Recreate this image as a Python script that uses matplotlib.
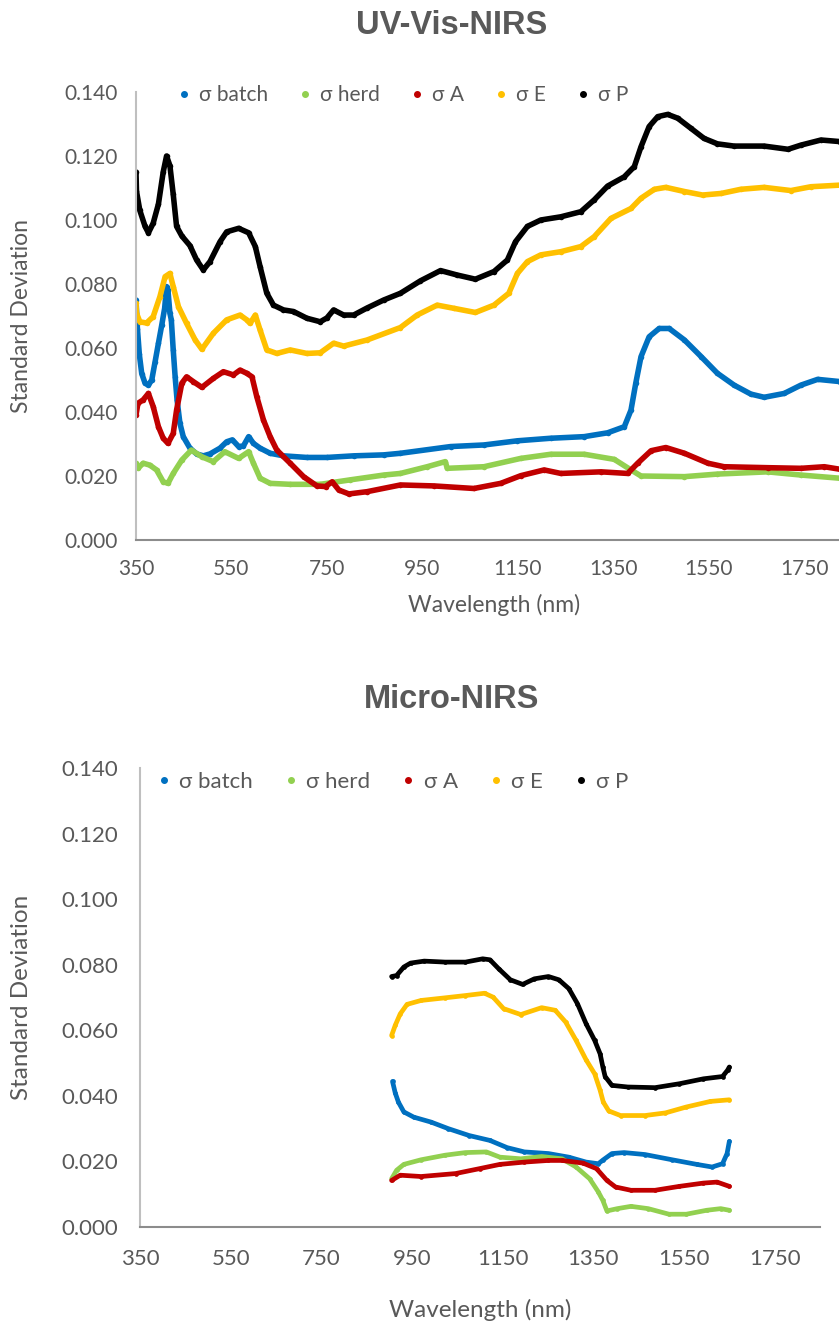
import matplotlib.pyplot as plt
from matplotlib.lines import Line2D

# Standardabweichungen ueber die Wellenlaenge, zwei Geraete

# --- UV-Vis-NIRS ---
uv_batch_nm = [350, 353, 357, 362, 369, 376, 383, 390, 397, 404,
               410, 414, 417, 421, 424, 428, 432, 436, 442, 449,
               463, 477, 491, 505, 526, 540, 552, 565, 575, 586,
               596, 610, 631, 659, 708, 750, 806, 869, 904, 1009,
               1079, 1149, 1219, 1289, 1338, 1373, 1387, 1397, 1408, 1425,
               1446, 1467, 1499, 1534, 1568, 1603, 1638, 1666, 1708, 1743,
               1778, 1825]
uv_batch = [0.075, 0.066, 0.058, 0.052, 0.049, 0.0484, 0.050, 0.0557, 0.0615, 0.0672,
            0.0724, 0.0792, 0.078, 0.0709, 0.0688, 0.0594, 0.051, 0.0438, 0.0365, 0.0323,
            0.0287, 0.0269, 0.0263, 0.0269, 0.0287, 0.0307, 0.0313, 0.0292, 0.0294, 0.0323,
            0.0302, 0.0287, 0.0271, 0.0263, 0.0258, 0.0258, 0.0263, 0.0266, 0.0271, 0.0292,
            0.0297, 0.031, 0.0318, 0.0323, 0.0335, 0.0354, 0.0406, 0.049, 0.0573, 0.0635,
            0.0661, 0.0661, 0.0625, 0.0573, 0.0521, 0.0484, 0.0456, 0.0446, 0.0458, 0.0484,
            0.0502, 0.0495]

uv_herd_nm = [350, 354, 365, 379, 393, 407, 417, 428, 446, 466,
              488, 512, 536, 565, 586, 596, 610, 631, 673, 736,
              799, 869, 904, 960, 998, 1002, 1079, 1156, 1219, 1289,
              1352, 1387, 1408, 1499, 1568, 1673, 1743, 1825]
uv_herd = [0.024, 0.0224, 0.024, 0.0234, 0.0219, 0.0182, 0.0177, 0.0208, 0.025, 0.0281,
           0.026, 0.0245, 0.0276, 0.0255, 0.0276, 0.024, 0.0193, 0.0177, 0.0174, 0.0174,
           0.0188, 0.0203, 0.0208, 0.0229, 0.0245, 0.0224, 0.0229, 0.0255, 0.0268, 0.0268,
           0.0252, 0.0219, 0.020, 0.0198, 0.0206, 0.0213, 0.0203, 0.0193]

uv_A_nm = [350, 354, 365, 376, 386, 397, 407, 417, 428, 435,
           446, 456, 470, 488, 512, 533, 554, 568, 582, 593,
           603, 617, 631, 645, 673, 701, 729, 747, 761, 775,
           796, 834, 904, 974, 1058, 1114, 1156, 1205, 1240, 1324,
           1380, 1401, 1429, 1460, 1499, 1548, 1582, 1673, 1743, 1792,
           1825]
uv_A = [0.039, 0.0427, 0.0438, 0.0458, 0.0417, 0.0354, 0.0318, 0.0302, 0.0333, 0.0406,
        0.049, 0.051, 0.0495, 0.0477, 0.0505, 0.0526, 0.0516, 0.0531, 0.0521, 0.051,
        0.0448, 0.0375, 0.0323, 0.0281, 0.024, 0.0198, 0.0169, 0.0167, 0.0182, 0.0156,
        0.0144, 0.0151, 0.0172, 0.0169, 0.0161, 0.0177, 0.0201, 0.0219, 0.0208, 0.0213,
        0.0208, 0.024, 0.0279, 0.0289, 0.0271, 0.024, 0.0229, 0.0226, 0.0224, 0.0229,
        0.0221]

uv_E_nm = [350, 351, 358, 372, 386, 400, 411, 421, 428, 439,
           456, 474, 488, 512, 540, 568, 582, 589, 600, 610,
           624, 645, 673, 708, 736, 764, 785, 834, 904, 939,
           981, 1016, 1061, 1100, 1131, 1149, 1170, 1198, 1240, 1282,
           1310, 1345, 1387, 1408, 1436, 1460, 1499, 1537, 1576, 1617,
           1666, 1722, 1764, 1825]
uv_E = [0.074, 0.0709, 0.0682, 0.0678, 0.0698, 0.076, 0.0823, 0.0833, 0.0792, 0.0729,
        0.0677, 0.0625, 0.0596, 0.0646, 0.0688, 0.0703, 0.0688, 0.0677, 0.0703, 0.0656,
        0.0594, 0.0583, 0.0594, 0.0583, 0.0585, 0.0615, 0.0606, 0.0625, 0.0664, 0.0703,
        0.0734, 0.0724, 0.0711, 0.0734, 0.0771, 0.0833, 0.087, 0.0891, 0.0901, 0.0917,
        0.0948, 0.1005, 0.1036, 0.1068, 0.1096, 0.1102, 0.1089, 0.1078, 0.1083, 0.1096,
        0.1102, 0.1092, 0.1104, 0.1109]

uv_P_nm = [350, 351, 358, 369, 376, 386, 397, 407, 414, 421,
           428, 435, 446, 463, 477, 491, 505, 526, 540, 565,
           586, 600, 610, 624, 638, 659, 680, 708, 736, 750,
           764, 785, 806, 834, 869, 904, 946, 988, 1023, 1061,
           1100, 1128, 1145, 1170, 1198, 1240, 1282, 1310, 1338, 1373,
           1394, 1408, 1425, 1443, 1464, 1485, 1513, 1540, 1568, 1603,
           1666, 1716, 1743, 1785, 1825]
uv_P = [0.115, 0.109, 0.103, 0.098, 0.096, 0.099, 0.105, 0.115, 0.120, 0.117,
        0.108, 0.098, 0.095, 0.092, 0.0875, 0.0844, 0.087, 0.0932, 0.0963, 0.0974,
        0.096, 0.0917, 0.0854, 0.0771, 0.0734, 0.0719, 0.0714, 0.0693, 0.0682, 0.0694,
        0.0719, 0.0703, 0.0703, 0.0725, 0.075, 0.0771, 0.081, 0.0842, 0.0828, 0.0815,
        0.0839, 0.0875, 0.0932, 0.098, 0.100, 0.101, 0.1026, 0.1063, 0.1106, 0.1135,
        0.1167, 0.1229, 0.1292, 0.1323, 0.1330, 0.1318, 0.1286, 0.1255, 0.1238, 0.1231,
        0.1231, 0.1221, 0.1234, 0.125, 0.1245]

# --- Micro-NIRS ---
mn_batch_nm = [907, 913, 920, 932, 954, 992, 1030, 1076, 1122, 1160,
               1198, 1251, 1296, 1334, 1361, 1372, 1391, 1418, 1464, 1524,
               1578, 1612, 1635, 1645, 1650]
mn_batch = [0.0444, 0.0409, 0.0381, 0.0351, 0.0335, 0.032, 0.030, 0.0279, 0.0264, 0.0242,
            0.0229, 0.0224, 0.0213, 0.0198, 0.0193, 0.0205, 0.0224, 0.0227, 0.0221, 0.0205,
            0.0191, 0.0183, 0.0193, 0.0224, 0.0261]

mn_herd_nm = [905, 916, 932, 970, 1023, 1068, 1114, 1144, 1190, 1236,
              1281, 1312, 1342, 1361, 1371, 1380, 1403, 1433, 1471, 1517,
              1555, 1600, 1631, 1650]
mn_herd = [0.0147, 0.0173, 0.0191, 0.0205, 0.0219, 0.0227, 0.0229, 0.0213, 0.0208, 0.0215,
           0.0208, 0.0183, 0.0147, 0.0107, 0.0081, 0.0049, 0.0056, 0.0063, 0.0056, 0.0039,
           0.0039, 0.0051, 0.0056, 0.0051]

mn_A_nm = [905, 924, 970, 1046, 1099, 1144, 1198, 1251, 1281, 1327,
           1357, 1380, 1399, 1433, 1486, 1540, 1593, 1623, 1650]
mn_A = [0.0142, 0.0158, 0.0154, 0.0163, 0.0178, 0.0191, 0.0198, 0.0203, 0.0203, 0.0195,
        0.0178, 0.0142, 0.0122, 0.0112, 0.0112, 0.0124, 0.0134, 0.0137, 0.0124]

mn_E_nm = [905, 913, 924, 939, 970, 1023, 1068, 1110, 1129, 1152,
           1190, 1236, 1266, 1289, 1312, 1334, 1353, 1365, 1372, 1384,
           1410, 1464, 1509, 1555, 1608, 1650]
mn_E = [0.0584, 0.0615, 0.065, 0.0679, 0.0691, 0.0699, 0.0706, 0.0713, 0.0701, 0.0666,
        0.0648, 0.0669, 0.0661, 0.0625, 0.0569, 0.051, 0.0467, 0.0417, 0.0381, 0.0354,
        0.034, 0.034, 0.0348, 0.0366, 0.0383, 0.0388]

mn_P_nm = [905, 916, 932, 947, 977, 1023, 1068, 1106, 1122, 1141,
           1167, 1194, 1220, 1251, 1274, 1296, 1315, 1334, 1353, 1365,
           1371, 1376, 1391, 1426, 1486, 1540, 1593, 1635, 1646, 1650]
mn_P = [0.0764, 0.0767, 0.0793, 0.0805, 0.0811, 0.0808, 0.0808, 0.0818, 0.0815, 0.0788,
        0.0754, 0.074, 0.0757, 0.0764, 0.0754, 0.0727, 0.0681, 0.062, 0.0569, 0.0528,
        0.0488, 0.0459, 0.0432, 0.0427, 0.0425, 0.0437, 0.0452, 0.0459, 0.0478, 0.0488]

labels = ["σ batch", "σ herd", "σ A", "σ E", "σ P"]
colors = ["#0070C0", "#92D050", "#C00000", "#FFC000", "#000000"]
xticks = [350, 550, 750, 950, 1150, 1350, 1550, 1750]
yticks = [0.0, 0.02, 0.04, 0.06, 0.08, 0.10, 0.12, 0.14]

grau = "#595959"
plt.rcParams['font.family'] = ['Lato', 'DejaVu Sans']

fig = plt.figure(figsize=(8.39, 13.21), dpi=100)
W, H = 839.0, 1321.0


def panel(rect_px, serien, fs, lw, pads, lab_px, legend_px, colsp):
    l, t, r, b = rect_px
    ax = fig.add_axes([l / W, 1 - b / H, (r - l) / W, (b - t) / H])
    for (xs, ys), c in zip(serien, colors):
        ax.plot(xs, ys, color=c, lw=lw, marker='o', ms=lw, mew=0, mfc=c,
                solid_capstyle='round', solid_joinstyle='round')
    ax.set_xlim(350, 1850)
    ax.set_ylim(0, 0.14)
    ax.set_xticks(xticks)
    ax.set_yticks(yticks)
    ax.set_yticklabels(["{:.3f}".format(v) for v in yticks])
    ax.tick_params(length=0, labelsize=fs, labelcolor=grau)
    ax.tick_params(axis='y', pad=pads[0])
    ax.tick_params(axis='x', pad=pads[1])
    for s in ['top', 'right']:
        ax.spines[s].set_visible(False)
    ax.spines['left'].set_color("#BFBFBF")
    ax.spines['left'].set_linewidth(1.5)
    ax.spines['bottom'].set_color("#8C8C8C")
    ax.spines['bottom'].set_linewidth(1.5)
    ax.set_ylabel("Standard Deviation", fontsize=fs + 1.5, color=grau, va='center')
    ax.set_xlabel("Wavelength (nm)", fontsize=fs + 1.5, color=grau, va='center')
    ax.yaxis.set_label_coords((lab_px[0] - l) / (r - l), 0.5)
    ax.xaxis.set_label_coords(0.5, (b - lab_px[1]) / (b - t))
    handles = [Line2D([], [], ls='none', marker='o', ms=4, color=c) for c in colors]
    fig.legend(handles, labels, loc='center left', ncol=5, frameon=False,
               bbox_to_anchor=(legend_px[0] / W, 1 - legend_px[1] / H),
               fontsize=fs, labelcolor=grau, handlelength=0.5,
               handletextpad=0.45, columnspacing=colsp, borderpad=0,
               borderaxespad=0)
    return ax


panel((136, 92, 852, 540),
      [(uv_batch_nm, uv_batch), (uv_herd_nm, uv_herd), (uv_A_nm, uv_A),
       (uv_E_nm, uv_E), (uv_P_nm, uv_P)],
      15, 4.0, (13, 14), (22, 605), (179, 95), 1.55)
fig.text(452 / W, 1 - 25 / H, "UV-Vis-NIRS", ha='center', va='center',
         fontsize=23.5, fontweight='bold', color=grau, family='Liberation Sans')

panel((140, 768, 820, 1227),
      [(mn_batch_nm, mn_batch), (mn_herd_nm, mn_herd), (mn_A_nm, mn_A),
       (mn_E_nm, mn_E), (mn_P_nm, mn_P)],
      16, 3.4, (16, 16), (22, 1310), (158, 782), 1.45)
fig.text(452 / W, 1 - 700 / H, "Micro-NIRS", ha='center', va='center',
         fontsize=23.5, fontweight='bold', color=grau, family='Liberation Sans')

fig.savefig("out.png", dpi=100)
